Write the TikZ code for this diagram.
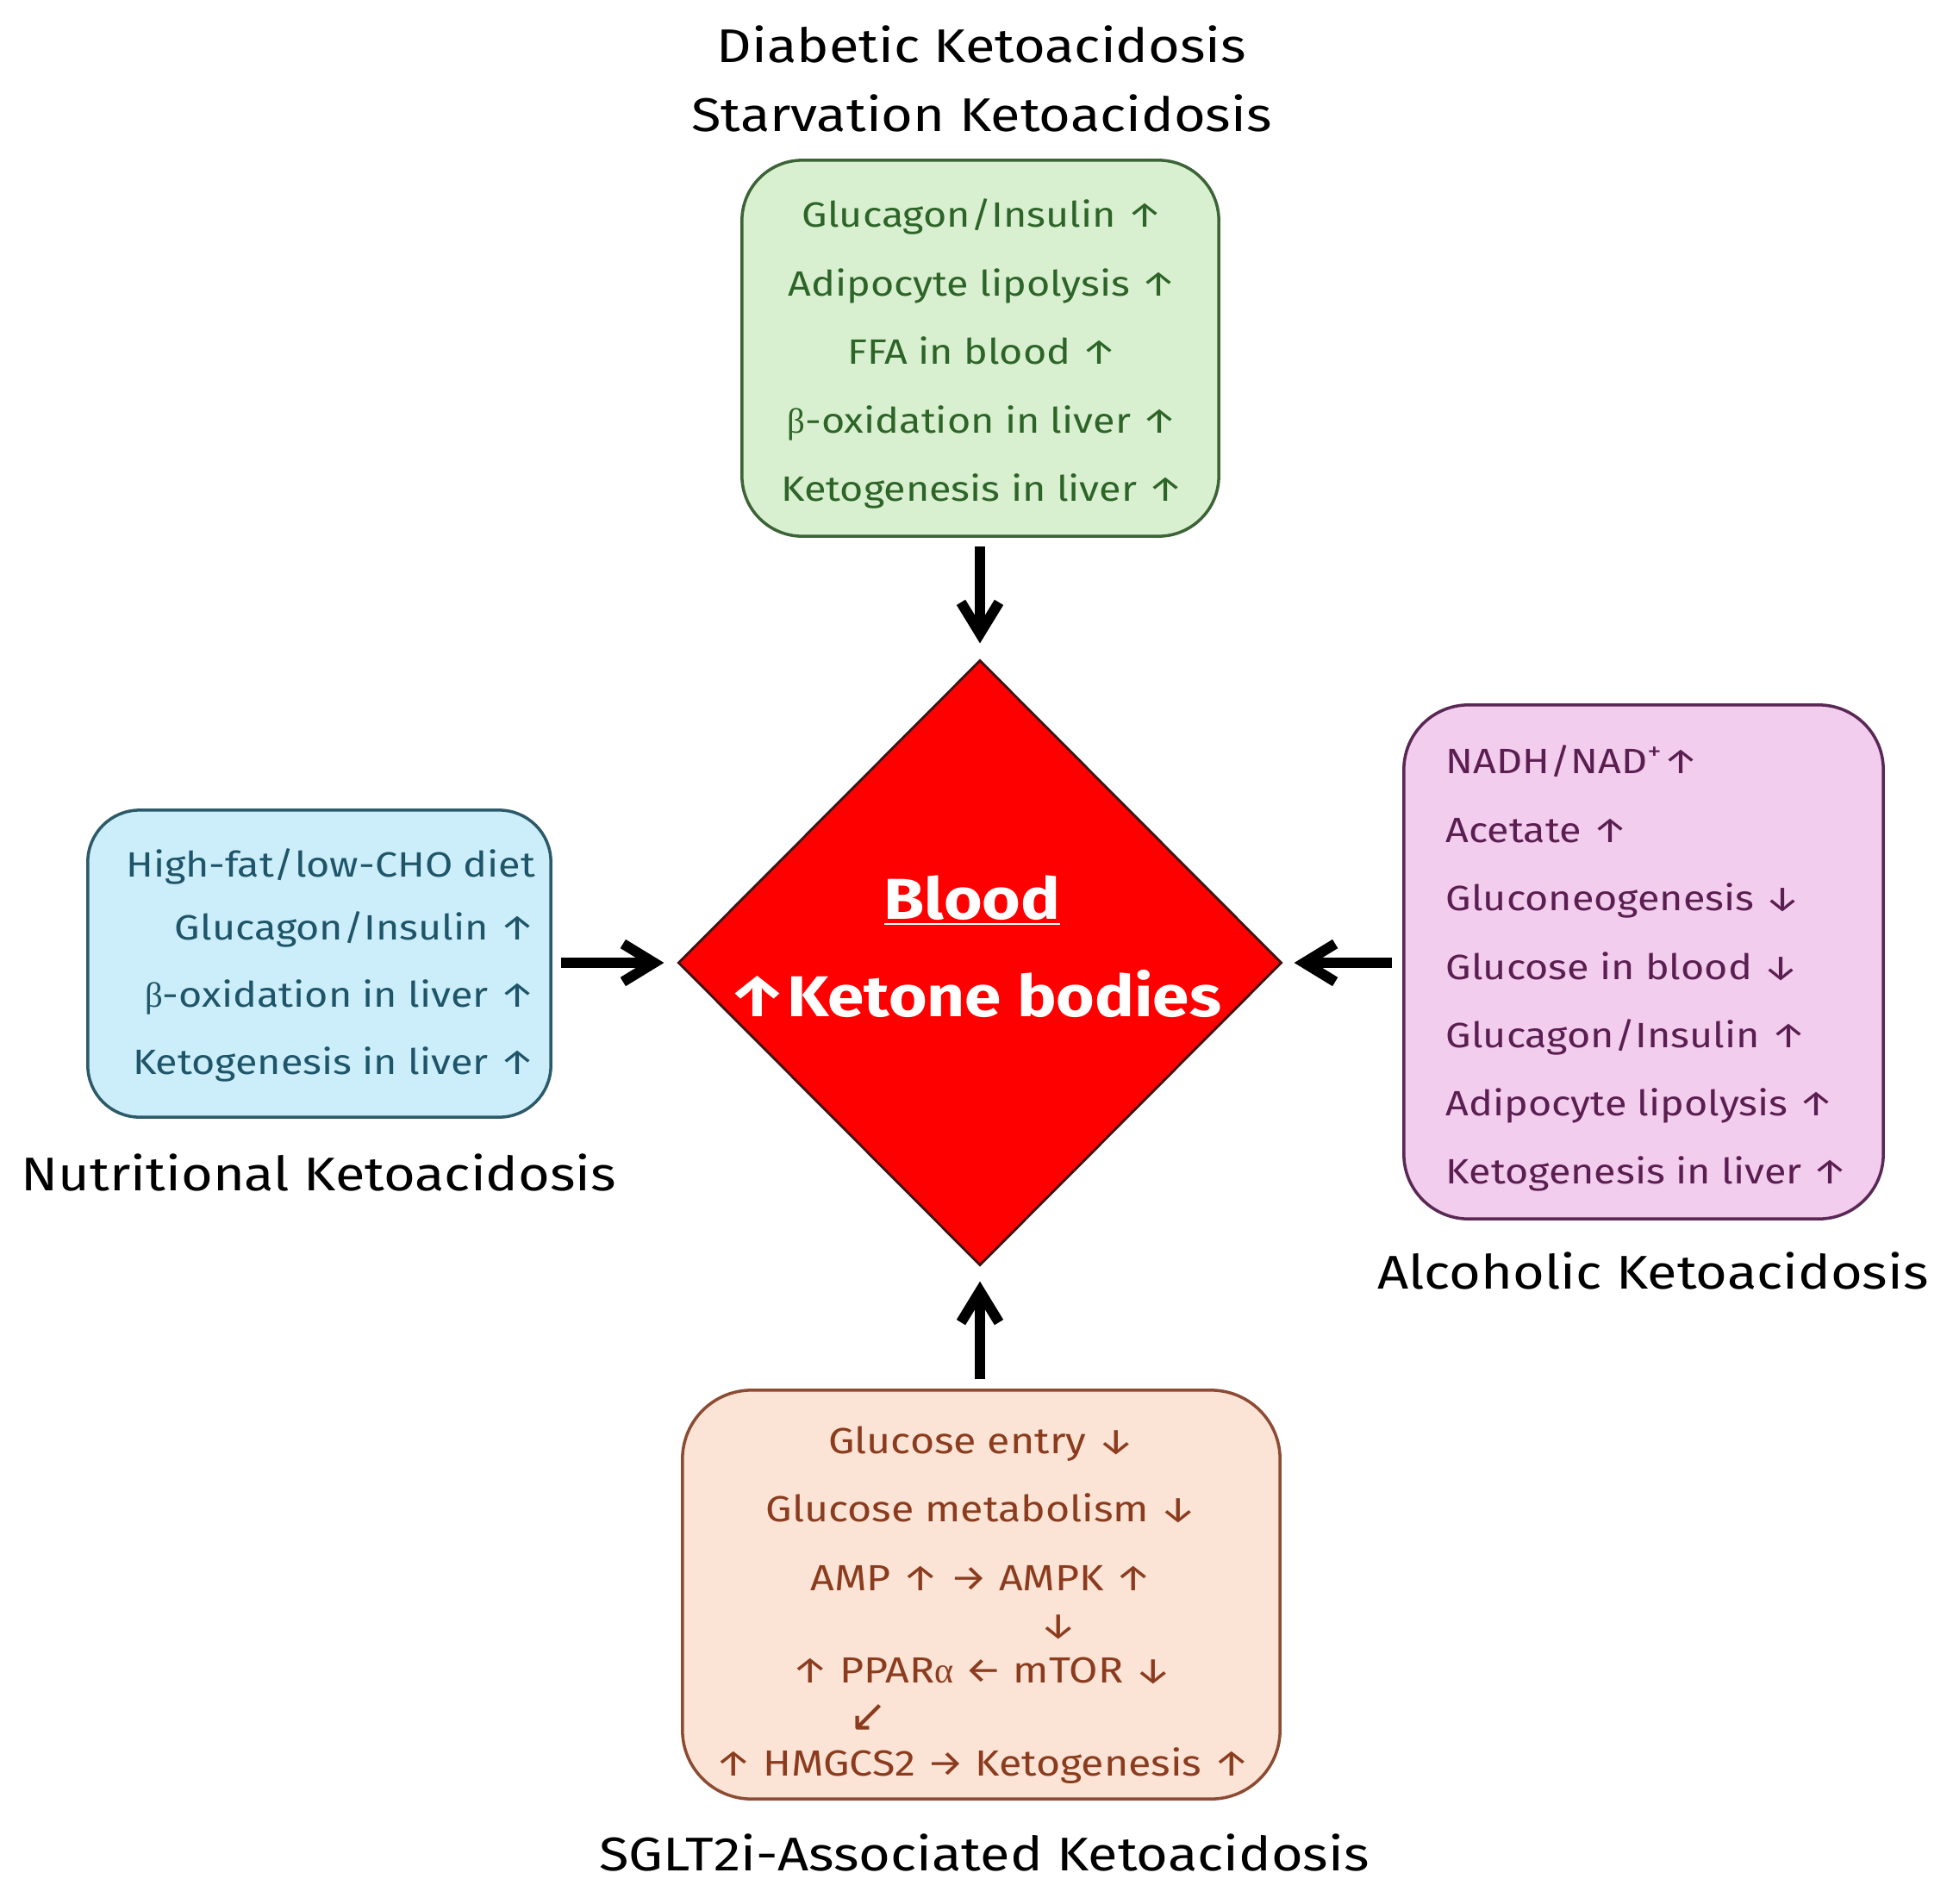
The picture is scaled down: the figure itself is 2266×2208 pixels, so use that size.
\documentclass[tikz,border=0pt]{standalone}
\usepackage{fontspec}
\setmainfont{Fira Sans}[FakeStretch=1.145]
\newfontfamily\ttlfont{Fira Sans}[FakeStretch=1.15]
\newfontfamily\grk{Liberation Serif}
\newfontfamily\dvs{DejaVu Sans}
\usetikzlibrary{shapes.geometric,arrows.meta}
\definecolor{gfill}{RGB}{217,240,208}
\definecolor{gtext}{RGB}{45,100,40}
\definecolor{gline}{RGB}{60,100,55}
\definecolor{bfill}{RGB}{204,238,250}
\definecolor{btext}{RGB}{30,85,105}
\definecolor{bline}{RGB}{45,90,105}
\definecolor{pfill}{RGB}{242,205,238}
\definecolor{ptext}{RGB}{90,30,80}
\definecolor{pline}{RGB}{90,40,85}
\definecolor{ofill}{RGB}{251,228,214}
\definecolor{otext}{RGB}{140,60,30}
\definecolor{oline}{RGB}{140,75,50}
\definecolor{kred}{RGB}{255,0,0}
\definecolor{kline}{RGB}{60,20,20}
\begin{document}
\begin{tikzpicture}[x=0.01cm,y=-0.01cm,
  box/.style={draw, rounded corners=0.7cm, line width=1pt, inner sep=0},
  body/.style={font=\fontsize{11.6}{14}\selectfont, inner sep=0},
  obody/.style={font=\fontsize{12}{14}\selectfont, inner sep=0},
  ttl/.style={font=\ttlfont\fontsize{15.6}{18}\selectfont, inner sep=0, text=black},
  kbtext/.style={inner sep=0, anchor=base, text=white, font=\fontsize{19}{22}\selectfont\bfseries},
  conn/.style={line width=1.2mm, draw=black, -{Straight Barb[length=3.6mm,width=4.4mm]}},
]
\useasboundingbox (0,0) rectangle (2266,2208);

% boxes
\node[box, draw=gline, fill=gfill, minimum width=5.53cm, minimum height=4.36cm] (green) at (1137.5,404) {};
\node[box, draw=bline, fill=bfill, minimum width=5.37cm, minimum height=3.56cm, rounded corners=0.6cm] (blue) at (370.5,1118) {};
\node[box, draw=pline, fill=pfill, minimum width=5.56cm, minimum height=5.96cm, rounded corners=0.75cm] (pink) at (1907,1116) {};
\node[box, draw=oline, fill=ofill, minimum width=6.93cm, minimum height=4.74cm, rounded corners=0.8cm] (orange) at (1138.5,1850) {};

% diamond
\node[diamond, draw=kline, fill=kred, line width=0.8pt, inner sep=0, minimum width=7cm, minimum height=7.02cm] (kb) at (1137,1117) {};
\node[kbtext] (blood) at (1128,1066) {\underline{Blood}};
\node[kbtext] (ketone) at (1131,1179) {↑Ketone bodies};

% titles
\node[ttl, anchor=base] (t1) at (1139,72) {Diabetic Ketoacidosis};
\node[ttl, anchor=base] (t2) at (1139,152) {Starvation Ketoacidosis};
\node[ttl, anchor=base] (t3) at (370,1381) {Nutritional Ketoacidosis};
\node[ttl, anchor=base] (t4) at (1918,1495) {Alcoholic Ketoacidosis};
\node[ttl, anchor=base] (t5) at (1142,2170) {SGLT2i-Associated Ketoacidosis};

% green text
\begin{scope}[every node/.style={body, text=gtext, anchor=base}]
\node (g1) at (1140,263) {Glucagon/Insulin ↑};
\node (g2) at (1140,343) {Adipocyte lipolysis ↑};
\node (g3) at (1140,422) {FFA in blood ↑};
\node (g4) at (1140,502) {{\grk β}-oxidation in liver ↑};
\node (g5) at (1140,581) {Ketogenesis in liver ↑};
\end{scope}

% blue text
\begin{scope}[every node/.style={body, text=btext, anchor=base east}]
\node (b1) at (622,1017) {High-fat/low-CHO diet};
\node (b2) at (622,1090) {Glucagon/Insulin ↑};
\node (b3) at (622,1168) {{\grk β}-oxidation in liver ↑};
\node (b4) at (622,1246) {Ketogenesis in liver ↑};
\end{scope}

% pink text
\begin{scope}[every node/.style={body, text=ptext, anchor=base west}]
\node (p1) at (1677,897) {NADH/NAD\textsuperscript{+}↑};
\node (p2) at (1677,977) {Acetate ↑};
\node (p3) at (1677,1056) {Gluconeogenesis ↓};
\node (p4) at (1677,1136) {Glucose in blood ↓};
\node (p5) at (1677,1215) {Glucagon/Insulin ↑};
\node (p6) at (1677,1294) {Adipocyte lipolysis ↑};
\node (p7) at (1677,1373) {Ketogenesis in liver ↑};
\end{scope}

% orange text
\begin{scope}[every node/.style={obody, text=otext, anchor=base}]
\node (o1) at (1139,1686) {Glucose entry ↓};
\node (o2) at (1139,1765) {Glucose metabolism ↓};
\node (o3) at (1139,1845) {AMP ↑ → AMPK ↑};
\node[anchor=center] (o4) at (1228,1888) {↓};
\node (o5) at (1139,1952) {↑ PPAR{\grk α} ← mTOR ↓};
\node[anchor=center, font=\dvs\fontsize{15}{16}\selectfont] (o6) at (1008,1993) {↙};
\node (o7) at (1140,2060) {↑ HMGCS2 → Ketogenesis ↑};
\end{scope}

% connectors
\draw[conn, shorten <=1mm, shorten >=1.8mm] (kb.north |- green.south) -- (kb.north);
\draw[conn, shorten <=1mm, shorten >=1.5mm] (kb.west -| blue.east) -- (kb.west);
\draw[conn, shorten <=1.2mm, shorten >=1.3mm] (kb.east -| pink.west) -- (kb.east);
\draw[conn, shorten <=1.1mm, shorten >=1.7mm] (kb.south |- orange.north) -- (kb.south);
\end{tikzpicture}
\end{document}
